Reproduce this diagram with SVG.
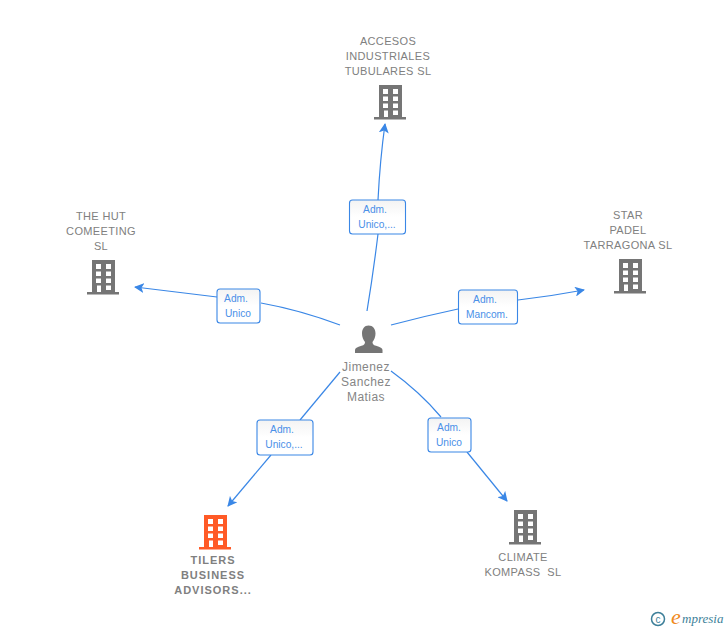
<svg xmlns="http://www.w3.org/2000/svg" width="728" height="630" viewBox="0 0 728 630">
<defs>
<linearGradient id="bg" x1="0" y1="0" x2="0" y2="1"><stop offset="0" stop-color="#f3f3f3"/><stop offset="0.5" stop-color="#ffffff"/></linearGradient>
<marker id="arr" viewBox="0 0 10 10" refX="9" refY="5" markerWidth="10" markerHeight="10" markerUnits="userSpaceOnUse" orient="auto"><path d="M0 0L10 5L0 10L2.500 5Z" fill="#3a87e6"/></marker>
<g id="bld"><path fill-rule="evenodd" d="M3 0H26V32H3ZM7 4V9H12V4ZM17 4V9H22V4ZM7 11.500V16H12V11.500ZM17 11.500V16H22V11.500ZM7 18.500V23H12V18.500ZM17 18.500V23H22V18.500ZM8 25.500V32H12V25.500ZM17 25.500V30H22V25.500Z"/><rect x="-2" y="32" width="32" height="2.500"/></g>
</defs>
<style>
text{font-family:"Liberation Sans",Arial,sans-serif}
.n{font-size:11px;fill:#808080;text-anchor:middle;letter-spacing:.35px}
.p{font-size:12px;fill:#858585;text-anchor:middle;letter-spacing:.45px}
.l{font-size:10.200px;fill:#4a90e8;text-anchor:middle}
.b{fill:url(#bg);stroke:#3a87e6;stroke-width:1.100}
.c{fill:none;stroke:#3a87e6;stroke-width:1.200}
.g{fill:#757575}
.t{font-weight:700;letter-spacing:1px}
</style>
<g id="connectors">
<path class="c" d="M367 311Q373 275 378 234"/><path class="c" d="M378 200Q380 160 385 124" marker-end="url(#arr)"/>
<path class="c" d="M340 325Q300 310 261 303"/><path class="c" d="M217 297L135 287" marker-end="url(#arr)"/>
<path class="c" d="M391 325Q425 316 458 309"/><path class="c" d="M518 300Q552 296 584 290" marker-end="url(#arr)"/>
<path class="c" d="M340 372L300 420"/><path class="c" d="M271 455L228 506" marker-end="url(#arr)"/>
<path class="c" d="M391 371Q420 392 441 417"/><path class="c" d="M467 452L507 501" marker-end="url(#arr)"/>
</g>
<g id="center"><path class="g" d="M368.500 325.500c4.500 0 7 3.500 7 8c0 3.500-1.300 6.500-3 8.500c0 2 .7 3 3.500 3.800c4.500 1.400 6.500 2.700 6.500 4.200v3h-27.500v-3c0-1.500 2-2.800 6.500-4.200c2.800-.8 3.500-1.800 3.500-3.800c-1.700-2-3-5-3-8.500c0-4.500 2.500-8 6.500-8Z"/>
<text class="p" x="366" y="371">Jimenez</text><text class="p" x="366" y="386">Sanchez</text><text class="p" x="366" y="401">Matias</text></g>
<g id="accesos"><use href="#bld" x="376" y="85" class="g"/><text class="n" x="388" y="45">ACCESOS</text><text class="n" x="388" y="60">INDUSTRIALES</text><text class="n" x="388" y="75">TUBULARES SL</text></g>
<g id="hut"><use href="#bld" x="89" y="260" class="g"/><text class="n" x="101" y="220">THE HUT</text><text class="n" x="101" y="235">COMEETING</text><text class="n" x="101" y="250">SL</text></g>
<g id="star"><use href="#bld" x="616" y="259" class="g"/><text class="n" x="628" y="219">STAR</text><text class="n" x="628" y="234">PADEL</text><text class="n" x="628" y="249">TARRAGONA SL</text></g>
<g id="tilers"><use href="#bld" x="201" y="515" fill="#ff5a26"/><text class="n t" x="213" y="564">TILERS</text><text class="n t" x="213" y="579">BUSINESS</text><text class="n t" x="213" y="594">ADVISORS...</text></g>
<g id="climate"><use href="#bld" x="511" y="510" class="g"/><text class="n" x="523" y="561">CLIMATE</text><text class="n" x="523" y="576" xml:space="preserve">KOMPASS  SL</text></g>
<g id="lab1"><rect class="b" x="349.500" y="200" width="56" height="34" rx="3"/><text class="l" x="375" y="213">Adm.</text><text class="l" x="377" y="228">Unico,...</text></g>
<g id="lab2"><rect class="b" x="217" y="289" width="43" height="34" rx="3"/><text class="l" x="236" y="302">Adm.</text><text class="l" x="238" y="317">Unico</text></g>
<g id="lab3"><rect class="b" x="458.500" y="290" width="59" height="34" rx="3"/><text class="l" x="485" y="303">Adm.</text><text class="l" x="487" y="318">Mancom.</text></g>
<g id="lab4"><rect class="b" x="257" y="420" width="56" height="35" rx="3"/><text class="l" x="282" y="433">Adm.</text><text class="l" x="284" y="448">Unico,...</text></g>
<g id="lab5"><rect class="b" x="428" y="418" width="43" height="34" rx="3"/><text class="l" x="449" y="431">Adm.</text><text class="l" x="449" y="446">Unico</text></g>
<g id="logo"><circle cx="658" cy="619" r="6.500" fill="none" stroke="#3d7f99" stroke-width="1.500"/><text x="658" y="622.500" font-size="10" fill="#3d7f99" text-anchor="middle">c</text><text x="671" y="624" font-size="22" fill="#f08a1c" font-style="italic" style="font-family:'Liberation Serif',serif">e</text><text x="682" y="623" font-size="13" fill="#3d7f99" font-style="italic" style="font-family:'Liberation Serif',serif">mpresia</text></g>
</svg>
